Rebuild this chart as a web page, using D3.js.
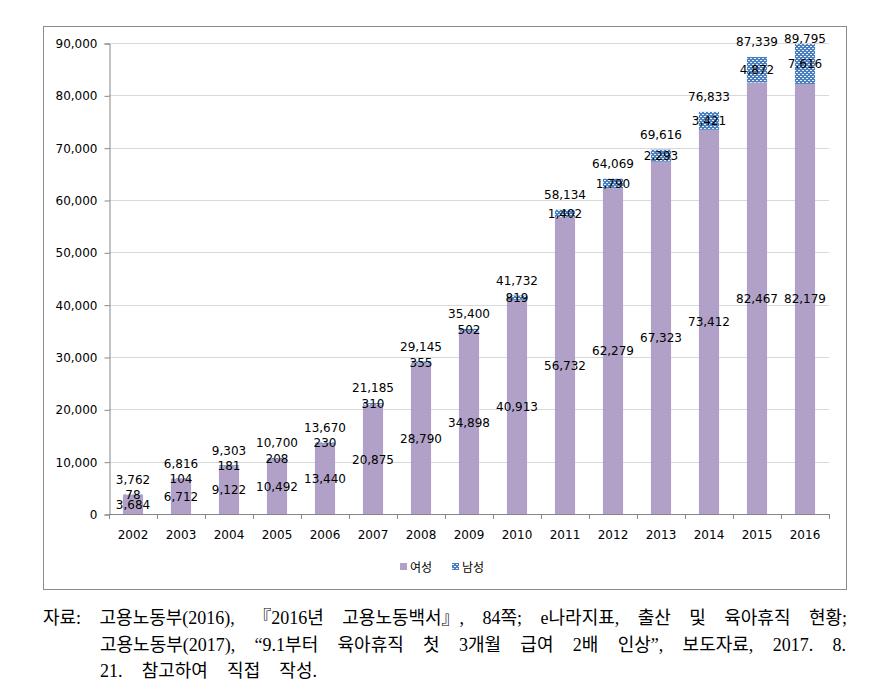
<!DOCTYPE html>
<html><head><meta charset="utf-8">
<script src="https://cdn.jsdelivr.net/npm/d3@7"></script>
<style>body{margin:0;background:#fff}svg{display:block}</style>
</head><body>
<svg id="c" width="894" height="688"></svg>
<script>
const years = ["2002","2003","2004","2005","2006","2007","2008","2009","2010","2011","2012","2013","2014","2015","2016"];
const female = [3684,6712,9122,10492,13440,20875,28790,34898,40913,56732,62279,67323,73412,82467,82179];
const male = [78,104,181,208,230,310,355,502,819,1402,1790,2293,3421,4872,7616];
const totals = [3762,6816,9303,10700,13670,21185,29145,35400,41732,58134,64069,69616,76833,87339,89795];
const yTicks = [0,10000,20000,30000,40000,50000,60000,70000,80000,90000];
const seriesNames = ["여성","남성"];
const captionLines = [
  "자료: 고용노동부(2016), 『2016년 고용노동백서』, 84쪽; e나라지표, 출산 및 육아휴직 현황;",
  "고용노동부(2017), “9.1부터 육아휴직 첫 3개월 급여 2배 인상”, 보도자료, 2017. 8.",
  "21. 참고하여 직접 작성."
];

(function(){
const svg = d3.select("#c");
const defs = svg.append("defs");
const pat = defs.append("pattern").attr("id","dots").attr("patternUnits","userSpaceOnUse").attr("width",4).attr("height",4);
pat.append("rect").attr("width",4).attr("height",4).attr("fill","#4a7fc0");
pat.append("rect").attr("x",0).attr("y",0).attr("width",2).attr("height",1).attr("fill","#e8eff8");
pat.append("rect").attr("x",2).attr("y",2).attr("width",2).attr("height",1).attr("fill","#e8eff8");

svg.append("rect").attr("x",43.5).attr("y",26.5).attr("width",803).attr("height",563)
  .attr("fill","#fff").attr("stroke","#8c8c8c").attr("stroke-width",1);

const pL = 109, pR = 829, pT = 43, pB = 514;
const x = d3.scaleBand().domain(years).range([pL,pR]).paddingInner(0.58).paddingOuter(0.29);
const y = d3.scaleLinear().domain([0,90000]).range([pB,pT]);
const font = "'DejaVu Sans', Verdana, sans-serif";

svg.append("g").selectAll("line").data(yTicks.slice(1)).join("line")
  .attr("x1",pL).attr("x2",pR).attr("y1",d=>Math.round(y(d))+0.5).attr("y2",d=>Math.round(y(d))+0.5)
  .attr("stroke","#d9d9d9");

const yAxis = svg.append("g").attr("transform",`translate(${pL+0.5},0.5)`)
  .call(d3.axisLeft(y).tickValues(yTicks).tickFormat(d3.format(",")).tickSize(5).tickPadding(7));
yAxis.select(".domain").attr("stroke","#868686");
yAxis.selectAll(".tick line").attr("stroke","#868686");
yAxis.selectAll("text").attr("font-family",font).attr("font-size",12).attr("fill","#000");

const g = svg.append("g");
years.forEach((yr,i)=>{
  g.append("rect").attr("x",x(yr)).attr("width",x.bandwidth())
    .attr("y",y(female[i])).attr("height",y(0)-y(female[i])).attr("fill","#b1a0c7");
  g.append("rect").attr("x",x(yr)).attr("width",x.bandwidth())
    .attr("y",y(female[i]+male[i])).attr("height",y(female[i])-y(female[i]+male[i])).attr("fill","url(#dots)");
});

const xAxis = svg.append("g").attr("transform",`translate(0,${pB+0.5})`)
  .call(d3.axisBottom(x).tickSize(0).tickPadding(16));
xAxis.select(".domain").attr("stroke","#868686").attr("d",`M${pL},0H${pR}`);
xAxis.selectAll("text").attr("font-family",font).attr("font-size",12).attr("fill","#000");
const step = x.step();
svg.append("g").selectAll("line").data(d3.range(years.length+1)).join("line")
  .attr("x1",d=>Math.round(pL+d*step)+0.5).attr("x2",d=>Math.round(pL+d*step)+0.5)
  .attr("y1",pB).attr("y2",pB+5).attr("stroke","#868686");

const lab = svg.append("g").attr("font-family",font).attr("font-size",12).attr("fill","#000").attr("text-anchor","middle");
years.forEach((yr,i)=>{
  const cx = x(yr)+x.bandwidth()/2;
  lab.append("text").attr("x",cx).attr("y",(y(0)+y(female[i]))/2).attr("dy","0.36em").text(d3.format(",")(female[i]));
  lab.append("text").attr("x",cx).attr("y",(y(female[i])+y(female[i]+male[i]))/2).attr("dy","0.36em").text(d3.format(",")(male[i]));
  lab.append("text").attr("x",cx).attr("y",Math.max(y(totals[i])-15,39)).attr("dy","0.36em").text(d3.format(",")(totals[i]));
});

const lg = svg.append("g").attr("font-family","'Noto Sans CJK KR', sans-serif").attr("font-size",12);
lg.append("rect").attr("x",400).attr("y",563).attr("width",7).attr("height",7).attr("fill","#b1a0c7");
lg.append("text").attr("x",410).attr("y",571.5).text(seriesNames[0]);
lg.append("rect").attr("x",452).attr("y",563).attr("width",7).attr("height",7).attr("fill","url(#dots)");
lg.append("text").attr("x",462).attr("y",571.5).text(seriesNames[1]);

const cap = svg.append("g").attr("font-family","'Liberation Serif', 'Noto Sans CJK KR', serif").attr("font-size",18).attr("fill","#000");
const specs = [[43,624,804],[100,651,746],[100,677,217]];
captionLines.forEach((t,i)=>{
  const [cx,cy,target] = specs[i];
  const el = cap.append("text").attr("x",cx).attr("y",cy).text(t);
  if (target) {
    const w = el.node().getComputedTextLength();
    const spaces = (t.match(/ /g)||[]).length;
    if (w < target) el.attr("word-spacing", ((target-w)/spaces).toFixed(2)+"px");
    else el.attr("textLength",target).attr("lengthAdjust","spacingAndGlyphs");
  }
});
})();
</script>
</body></html>
